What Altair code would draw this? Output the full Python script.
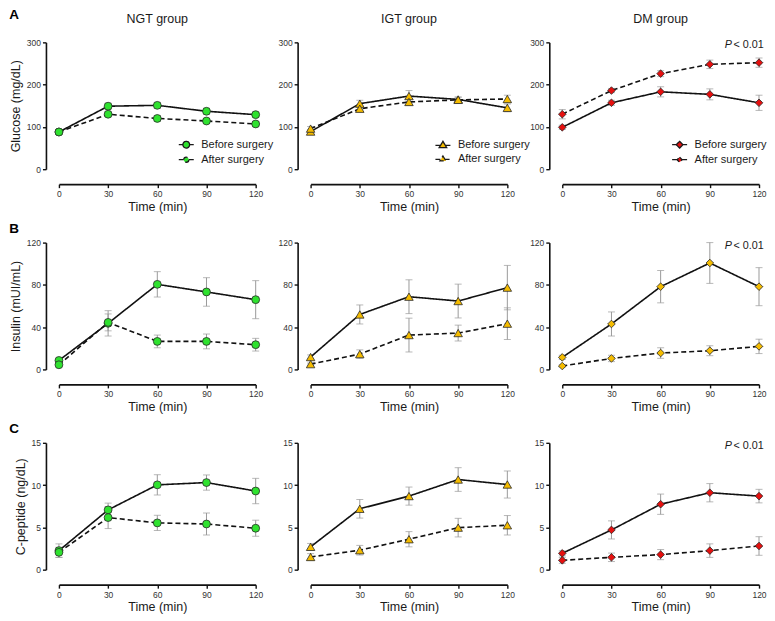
import altair as alt
import pandas as pd

FONT = "Liberation Sans"

times = [0, 30, 60, 90, 120]
groups = ["NGT group", "IGT group", "DM group"]
periods = ["Before surgery", "After surgery"]
panel_letters = ["A", "B", "C"]
p_label = ["P", "< 0.01"]

row_titles = ["Glucose (mg/dL)", "Insulin (mUI/mL)", "C-peptide (ng/dL)"]
row_max = [300, 120, 15]
row_ticks = [[0, 100, 200, 300], [0, 40, 80, 120], [0, 5, 10, 15]]

# ---- Glucose ----
glu_ngt_before = [88, 149, 151, 137, 129]
glu_ngt_before_err = [4, 7, 7, 7, 6]
glu_ngt_after = [88, 130, 120, 114, 107]
glu_ngt_after_err = [4, 6, 7, 6, 5]
glu_igt_before = [89, 155, 173, 165, 145]
glu_igt_before_err = [5, 8, 13, 6, 9]
glu_igt_after = [96, 143, 159, 164, 166]
glu_igt_after_err = [5, 6, 8, 6, 9]
glu_dm_before = [99, 157, 183, 177, 157]
glu_dm_before_err = [5, 6, 12, 13, 18]
glu_dm_after = [130, 186, 226, 248, 252]
glu_dm_after_err = [11, 5, 7, 10, 11]

# ---- Insulin ----
ins_ngt_before = [8.5, 43.6, 80.5, 73.3, 66]
ins_ngt_before_err = [1.5, 12, 12, 13.5, 18]
ins_ngt_after = [4.4, 44.5, 26.5, 26.5, 23.4]
ins_ngt_after_err = [1, 8, 6, 7, 6]
ins_igt_before = [11.7, 52, 68.8, 64.7, 77.4]
ins_igt_before_err = [2, 9, 16, 16, 21]
ins_igt_after = [5, 14.5, 32.5, 34.4, 43.3]
ins_igt_after_err = [1, 4, 16, 7.5, 15]
ins_dm_before = [11.4, 43, 78.3, 100.7, 78.3]
ins_dm_before_err = [2, 11.4, 15.3, 19.3, 18]
ins_dm_after = [3.2, 10.4, 15.5, 17.7, 21.8]
ins_dm_after_err = [1, 3, 5, 4.7, 6.8]

# ---- C-peptide ----
cp_ngt_before = [2.25, 7.07, 10.03, 10.3, 9.3]
cp_ngt_before_err = [0.8, 0.8, 1.2, 0.9, 1.5]
cp_ngt_after = [2.05, 6.16, 5.53, 5.4, 4.9]
cp_ngt_after_err = [0.6, 1.3, 0.9, 1.3, 0.95]
cp_igt_before = [2.7, 7.2, 8.7, 10.66, 10.07]
cp_igt_before_err = [0.4, 1.1, 1.07, 1.4, 1.6]
cp_igt_after = [1.5, 2.3, 3.6, 4.97, 5.25]
cp_igt_after_err = [0.4, 0.57, 0.9, 1.1, 1.15]
cp_dm_before = [1.93, 4.7, 7.74, 9.1, 8.7]
cp_dm_before_err = [0.3, 1.07, 1.2, 1.08, 0.8]
cp_dm_after = [1.1, 1.46, 1.78, 2.25, 2.8]
cp_dm_after_err = [0.35, 0.5, 0.6, 0.8, 1.1]

data_grid = [
    [(glu_ngt_before, glu_ngt_before_err, glu_ngt_after, glu_ngt_after_err),
     (glu_igt_before, glu_igt_before_err, glu_igt_after, glu_igt_after_err),
     (glu_dm_before, glu_dm_before_err, glu_dm_after, glu_dm_after_err)],
    [(ins_ngt_before, ins_ngt_before_err, ins_ngt_after, ins_ngt_after_err),
     (ins_igt_before, ins_igt_before_err, ins_igt_after, ins_igt_after_err),
     (ins_dm_before, ins_dm_before_err, ins_dm_after, ins_dm_after_err)],
    [(cp_ngt_before, cp_ngt_before_err, cp_ngt_after, cp_ngt_after_err),
     (cp_igt_before, cp_igt_before_err, cp_igt_after, cp_igt_after_err),
     (cp_dm_before, cp_dm_before_err, cp_dm_after, cp_dm_after_err)],
]

GREEN = "#2fe22f"
YELLOW = "#f5bc00"
RED = "#e5100f"
col_shapes = ["circle", "triangle-up", "diamond"]
fill_grid = [[GREEN, YELLOW, RED], [GREEN, YELLOW, YELLOW], [GREEN, YELLOW, RED]]
show_p = [False, False, True]

# legend symbols: a line with a marker in its middle (unit coordinates)
legend_paths = {
    "circle": [
        "M-1,0L-0.45,0M0.45,0L1,0M0.45,0A0.45,0.45,0,1,1,-0.45,0A0.45,0.45,0,1,1,0.45,0Z",
        "M-1,0L-0.34,0M0.34,0L1,0M0.34,0A0.34,0.34,0,1,1,-0.34,0A0.34,0.34,0,1,1,0.34,0Z",
    ],
    "triangle-up": [
        "M-1,0.08L-0.3,0.08M0.3,0.08L1,0.08M0,-0.45L0.5,0.38L-0.5,0.38Z",
        "M-1,0.08L-0.22,0.08M0.22,0.08L1,0.08M0,-0.36L0.4,0.3L-0.4,0.3Z",
    ],
    "diamond": [
        "M-1,0L-0.45,0M0.45,0L1,0M0,-0.45L0.45,0L0,0.45L-0.45,0Z",
        "M-1,0L-0.34,0M0.34,0L1,0M0,-0.34L0.34,0L0,0.34L-0.34,0Z",
    ],
}
legend_x = [119, 124, 109]
marker_size = {"circle": 62, "triangle-up": 72, "diamond": 58}
SOLID = [1, 0]
DASHED = [5, 3]

W, H = 197, 127


def make_df(before, before_err, after, after_err):
    rows = []
    for per, vals, errs in [(periods[0], before, before_err), (periods[1], after, after_err)]:
        for t, v, e in zip(times, vals, errs):
            rows.append({"time": t, "value": v, "lo": v - e, "hi": v + e, "period": per})
    return pd.DataFrame(rows)


def panel(r, c):
    df = make_df(*data_grid[r][c])
    shape = col_shapes[c]
    fill = fill_grid[r][c]
    xaxis = alt.Axis(values=times, title="Time (min)", offset=15, titlePadding=2)
    if c == 0:
        yaxis = alt.Axis(values=row_ticks[r], title=row_titles[r], offset=13, titlePadding=4)
    else:
        yaxis = alt.Axis(values=row_ticks[r], title=None, offset=13)
    x = alt.X("time:Q", scale=alt.Scale(domain=[0, 120], nice=False, zero=False), axis=xaxis)
    y = alt.Y("value:Q", scale=alt.Scale(domain=[0, row_max[r]], nice=False), axis=yaxis)
    base = alt.Chart(df)

    err = base.mark_rule(color="#9a9a9a", strokeWidth=1).encode(x=x, y=alt.Y("lo:Q"), y2="hi:Q")
    cap_lo = base.mark_tick(color="#9a9a9a", orient="horizontal", size=7, thickness=1).encode(x=x, y=alt.Y("lo:Q"))
    cap_hi = base.mark_tick(color="#9a9a9a", orient="horizontal", size=7, thickness=1).encode(x=x, y=alt.Y("hi:Q"))
    line_b = base.transform_filter(alt.datum.period == periods[0]).mark_line(
        color="#111111", strokeWidth=1.6, strokeDash=SOLID).encode(x=x, y=y)
    line_a = base.transform_filter(alt.datum.period == periods[1]).mark_line(
        color="#111111", strokeWidth=1.6, strokeDash=DASHED).encode(x=x, y=y)
    pts = base.mark_point(filled=True, fill=fill, stroke="#2a2a2a", strokeWidth=0.8, opacity=1,
                          shape=shape, size=marker_size[shape]).encode(x=x, y=y, detail="period:N")
    layers = [err, cap_lo, cap_hi, line_b, line_a, pts]

    if r == 0:
        leg = base.transform_filter("false").mark_point(
            filled=True, fill=fill, stroke="#1a1a1a", strokeWidth=1.3, opacity=1
        ).encode(
            x=x, y=y,
            shape=alt.Shape("period:N", scale=alt.Scale(domain=periods, range=legend_paths[shape]),
                            legend=alt.Legend(orient="none", legendX=legend_x[c], legendY=94, title=None,
                                              padding=0, symbolSize=225, labelFontSize=11, labelOffset=6.5,
                                              rowPadding=0, labelFont=FONT, labelColor="#1a1a1a",
                                              symbolStrokeWidth=1.3)),
            strokeDash=alt.StrokeDash("period:N", scale=alt.Scale(domain=periods, range=[SOLID, DASHED])),
        )
        layers.append(leg)
        tdf = pd.DataFrame({"label": [groups[c]]})
        ttl = alt.Chart(tdf).mark_text(font=FONT, fontSize=12.5, align="center", baseline="middle",
                                       color="#1a1a1a").encode(
            text="label:N", x=alt.value(W / 2), y=alt.value(-23))
        layers.append(ttl)

    if c == 0:
        letter_df = pd.DataFrame({"label": [panel_letters[r]]})
        ly = -27 if r == 0 else -14
        letter = alt.Chart(letter_df).mark_text(font=FONT, fontSize=13.5, fontWeight="bold", align="center",
                                                baseline="middle", color="#000").encode(
            text="label:N", x=alt.value(-45), y=alt.value(ly))
        layers.append(letter)

    if show_p[c]:
        pdf = pd.DataFrame({"label": [p_label[0]]})
        qdf = pd.DataFrame({"label": [p_label[1]]})
        p1 = alt.Chart(pdf).mark_text(font=FONT, fontSize=10.8, fontStyle="italic", align="right",
                                      baseline="middle", color="#1a1a1a").encode(
            text="label:N", x=alt.value(170), y=alt.value(3))
        p2 = alt.Chart(qdf).mark_text(font=FONT, fontSize=10.8, align="left",
                                      baseline="middle", color="#1a1a1a").encode(
            text="label:N", x=alt.value(171.5), y=alt.value(3))
        layers += [p1, p2]

    return alt.layer(*layers).properties(width=W, height=H)


panels = [panel(r, c) for r in range(3) for c in range(3)]

chart = alt.concat(*panels, columns=3, spacing={"row": 73.5, "column": 55}, bounds="flush").resolve_scale(
    shape="independent", strokeDash="independent"
).resolve_legend(shape="independent", strokeDash="independent").configure_view(
    stroke=None
).configure_axis(
    grid=False, domainColor="#111111", domainWidth=1.6, tickColor="#111111", tickWidth=1.4, tickSize=3.5,
    labelFontSize=8.5, labelColor="#333333", labelPadding=2, labelFont=FONT, titleFont=FONT,
    titleFontSize=12.5, titleFontWeight="normal", titleColor="#1a1a1a", labelFlush=False
).properties(padding={"left": 1, "top": 0, "right": 0, "bottom": 0}, background="white")

chart.save("out.html", embed_options={"renderer": "svg", "actions": False})
